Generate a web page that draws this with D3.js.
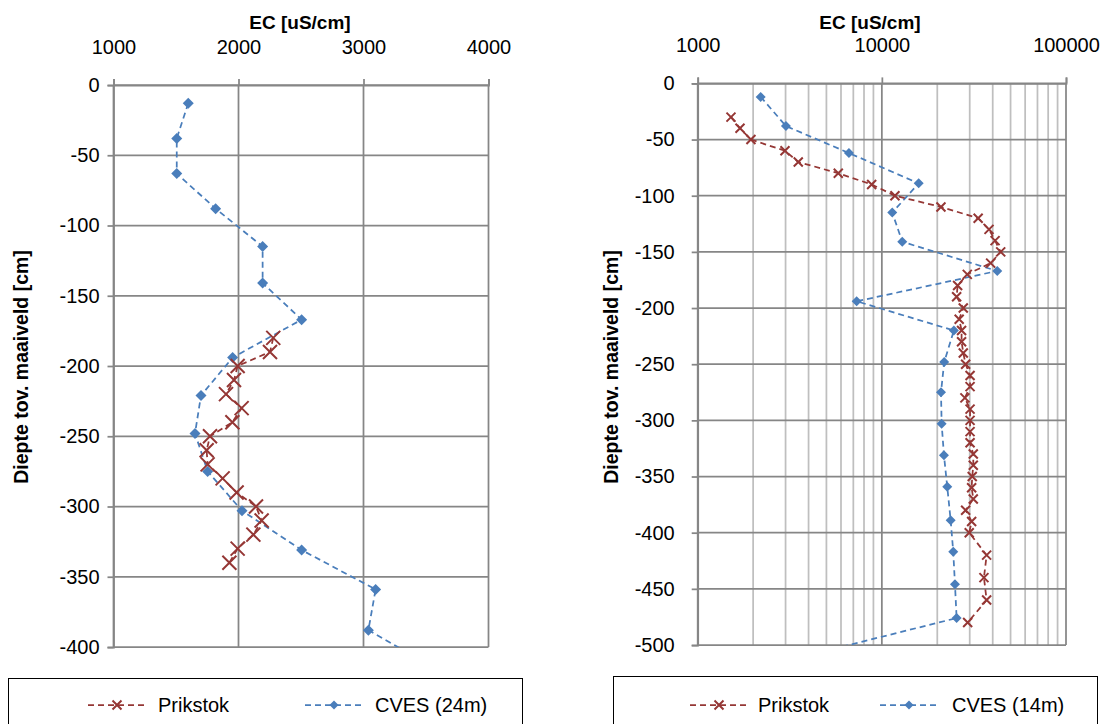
<!DOCTYPE html>
<html lang="nl">
<head>
  <meta charset="UTF-8">
  <title>EC profielen</title>
  <style>
    body { margin: 0; background: #fff; }
    svg { display: block; font-family: "Liberation Sans", Arial, sans-serif; }
    .axis path { stroke: #868686; stroke-width: 1.75px; }
    .axis line { stroke: #868686; stroke-width: 1.75px; }
    .axis text { font-size: 20px; fill: #000; }
  </style>
</head>
<body>
  <div id="chart"></div>

  <script src="https://d3js.org/d3.v7.min.js"></script>
  <script>
    const width = 1107, height = 724;

    // linker grafiek (CVES 24m), lineaire as
    const leftXTicks = [1000, 2000, 3000, 4000];
    const leftYTicks = [0, -50, -100, -150, -200, -250, -300, -350, -400];
    const prik24Depth = [-180, -190, -200, -210, -220, -230, -240, -250, -260, -270, -280, -290, -300, -310, -320, -330, -340];
    const prik24EC    = [2278, 2252, 1993, 1964, 1900, 2025, 1951, 1772, 1745, 1753, 1873, 1985, 2140, 2185, 2119, 1993, 1927];
    const cves24Depth = [-13, -38, -63, -88, -115, -141, -167, -194, -221, -248, -275, -303, -331, -359, -388, -415];
    const cves24EC    = [1598, 1506, 1506, 1817, 2193, 2193, 2505, 1953, 1700, 1652, 1753, 2028, 2505, 3097, 3039, 3570];

    // rechter grafiek (CVES 14m), log as
    const rightXTicks = [1000, 10000, 100000];
    const rightYTicks = [0, -50, -100, -150, -200, -250, -300, -350, -400, -450, -500];
    const prik14Depth = [-30, -40, -50, -60, -70, -80, -90, -100, -110, -120, -130, -140, -150, -160, -170, -180, -190, -200,
                         -210, -220, -230, -240, -250, -260, -270, -280, -290, -300, -310, -320, -330, -340, -350, -360,
                         -370, -380, -390, -400, -420, -440, -460, -480];
    const prik14EC    = [1516, 1697, 1946, 2978, 3517, 5800, 8803, 11780, 20940, 33340, 38190, 41200, 44200, 38980, 29100, 25790, 25470, 27680,
                         26300, 27100, 27100, 27680, 28510, 30130, 30130, 28250, 30130, 30130, 30130, 30130, 31370, 31370, 30960, 30730,
                         31370, 28510, 30730, 29820, 37070, 35840, 37070, 29240];
    const cves14Depth = [-12, -38, -62, -89, -115, -141, -167, -194, -220, -248, -275, -303, -331, -359, -389, -417, -446, -476, -505];
    const cves14EC    = [2198, 3015, 6626, 15850, 11390, 12910, 42320, 7298, 24620, 21810, 20950, 21120, 21740, 22650, 23640, 24420, 24950, 25470, 5000];

    const seriesNames = ["Prikstok", "CVES (24m)", "CVES (14m)"];
    const red = "#953735", blue = "#4a7ebb";

    const svg = d3.select("#chart").append("svg")
      .attr("width", width).attr("height", height);

    const charts = [
      { id: "l", log: false, xDomain: [1000, 4000], xRange: [113.5, 488.5], yDomain: [0, -400], yRange: [85, 647],
        xTicks: leftXTicks, yTicks: leftYTicks, yPad: 8, titleX: 300, yTitleX: 21,
        prik: { d: prik24Depth, v: prik24EC }, cves: { d: cves24Depth, v: cves24EC }, xSize: 7, dSize: 5.5,
        legend: { x: 8.5, w: 514, y: 678.5, items: [[88, 158, 0], [305, 375, 1]] } },
      { id: "r", log: true, xDomain: [1000, 100000], xRange: [697.7, 1066], yDomain: [0, -500], yRange: [83.4, 645],
        xTicks: rightXTicks, yTicks: rightYTicks, yPad: 17, titleX: 870, yTitleX: 611,
        prik: { d: prik14Depth, v: prik14EC }, cves: { d: cves14Depth, v: cves14EC }, xSize: 4.5, dSize: 5,
        legend: { x: 613.5, w: 484, y: 676.5, items: [[690, 758, 0], [880, 952, 2]] } }
    ];

    charts.forEach(drawChart);

    function drawChart(c) {
      const x = (c.log ? d3.scaleLog() : d3.scaleLinear()).domain(c.xDomain).range(c.xRange);
      const y = d3.scaleLinear().domain(c.yDomain).range(c.yRange);
      const g = svg.append("g");

      g.append("clipPath").attr("id", "clip-" + c.id)
        .append("rect")
        .attr("x", c.xRange[0]).attr("y", c.yRange[0])
        .attr("width", c.xRange[1] - c.xRange[0]).attr("height", c.yRange[1] - c.yRange[0]);

      // minor gridlines (alleen log)
      if (c.log) {
        const minor = x.ticks().filter(t => c.xTicks.indexOf(t) < 0);
        g.selectAll(".minor").data(minor).enter().append("line")
          .attr("x1", d => x(d)).attr("x2", d => x(d))
          .attr("y1", c.yRange[0]).attr("y2", c.yRange[1])
          .attr("stroke", "#bfbfbf").attr("stroke-width", 1.75);
      }
      // major gridlines
      g.selectAll(".vgrid").data(c.xTicks).enter().append("line")
        .attr("x1", d => x(d)).attr("x2", d => x(d))
        .attr("y1", c.yRange[0]).attr("y2", c.yRange[1])
        .attr("stroke", "#868686").attr("stroke-width", 1.75);
      g.selectAll(".hgrid").data(c.yTicks).enter().append("line")
        .attr("x1", c.xRange[0]).attr("x2", c.xRange[1])
        .attr("y1", d => y(d)).attr("y2", d => y(d))
        .attr("stroke", "#868686").attr("stroke-width", 1.75);

      // assen
      g.append("g").attr("class", "axis")
        .attr("transform", `translate(${c.xRange[0]},0)`)
        .call(d3.axisLeft(y).tickValues(c.yTicks).tickSize(6).tickPadding(c.yPad).tickFormat(d => String(d)));
      g.append("g").attr("class", "axis")
        .attr("transform", `translate(0,${c.yRange[0]})`)
        .call(d3.axisTop(x).tickValues(c.xTicks).tickSize(6).tickPadding(25).tickFormat(d => String(d)));

      // titels
      g.append("text").attr("x", c.titleX).attr("y", 29)
        .attr("text-anchor", "middle").attr("font-weight", "bold").attr("font-size", 19)
        .text("EC [uS/cm]");
      g.append("text")
        .attr("transform", `translate(${c.yTitleX + 7},367) rotate(-90)`)
        .attr("text-anchor", "middle").attr("font-weight", "bold").attr("font-size", 19.5)
        .text("Diepte tov. maaiveld [cm]");

      const line = d3.line().x(d => x(d[0])).y(d => y(d[1]));
      const plot = g.append("g").attr("clip-path", `url(#clip-${c.id})`);

      const cvesPts = c.cves.v.map((v, i) => [v, c.cves.d[i]]);
      const prikPts = c.prik.v.map((v, i) => [v, c.prik.d[i]]);

      plot.append("path").datum(cvesPts).attr("d", line)
        .attr("fill", "none").attr("stroke", blue).attr("stroke-width", 1.75).attr("stroke-dasharray", "6,4");
      plot.selectAll(".dia").data(cvesPts.filter(p => p[1] >= c.yDomain[1])).enter().append("path")
        .attr("d", diamond(c.dSize))
        .attr("transform", d => `translate(${x(d[0])},${y(d[1])})`)
        .attr("fill", blue);

      plot.append("path").datum(prikPts).attr("d", line)
        .attr("fill", "none").attr("stroke", red).attr("stroke-width", 1.75).attr("stroke-dasharray", "6,4");
      plot.selectAll(".cross").data(prikPts).enter().append("path")
        .attr("d", cross(c.xSize))
        .attr("transform", d => `translate(${x(d[0])},${y(d[1])})`)
        .attr("fill", "none").attr("stroke", red).attr("stroke-width", 2);

      // legenda
      const L = c.legend;
      g.append("rect").attr("x", L.x).attr("y", L.y).attr("width", L.w).attr("height", 60)
        .attr("fill", "#fff").attr("stroke", "#000").attr("stroke-width", 1);
      L.items.forEach(([sx, tx, k]) => {
        const col = k === 0 ? red : blue;
        const cy = 705;
        g.append("line").attr("x1", sx).attr("x2", sx + 58).attr("y1", cy).attr("y2", cy)
          .attr("stroke", col).attr("stroke-width", 1.75).attr("stroke-dasharray", "6,4");
        const m = g.append("path").attr("transform", `translate(${sx + 29},${cy})`);
        if (k === 0) m.attr("d", cross(4.5)).attr("fill", "none").attr("stroke", col).attr("stroke-width", 2);
        else m.attr("d", diamond(4.5)).attr("fill", col);
        g.append("text").attr("x", tx).attr("y", cy + 7).attr("font-size", 20)
          .text(seriesNames[k]);
      });
    }

    function diamond(r) {
      return `M0,${-r}L${r},0L0,${r}L${-r},0Z`;
    }
    function cross(r) {
      return `M${-r},${-r}L${r},${r}M${-r},${r}L${r},${-r}`;
    }
  </script>
</body>
</html>
